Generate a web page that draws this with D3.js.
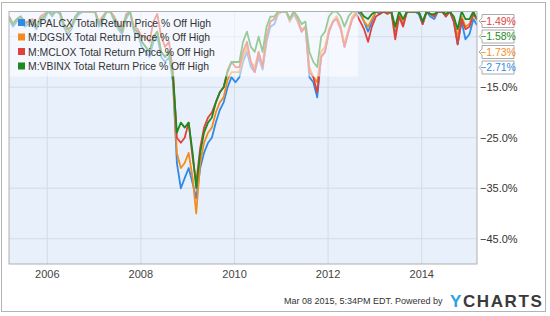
<!DOCTYPE html>
<html>
<head>
<meta charset="utf-8">
<script src="https://cdn.jsdelivr.net/npm/d3@7"></script>
<style>
  body { margin: 0; background: #fff; }
  svg { display: block; font-family: "Liberation Sans", Arial, sans-serif; }
</style>
</head>
<body>
<svg id="chart" width="550" height="316"></svg>
<script>
// monthly samples, Mar 2005 .. Mar 2015 (last point is Mar 08 2015)
const startMonth = new Date(2005, 2, 8);
const endDate = new Date(2015, 2, 8);

const palcx = [
  -1.5, -3, -2, -1.5, -3, -2.5, -2.5, -3.5, -2, -1.5,
  0, -1, 0, -0.5, -3, -4.5, -3.5, -1.5, -0.5, 0, 0, 0,
  0, -3, -2, 0, 0, -2, -3.5, -4.5, -1.5, 0, -4, -4.5,
  -7, -8, -9, -6, -5, -9, -10, -9, -14, -30, -35, -33,
  -31, -34, -37, -31, -28, -26, -25, -22, -19.5, -18, -15, -13,
  -14, -13, -10, -8, -11, -12, -9, -11.5, -6, -3, -2.5, -0.5,
  0, 0, -2, -0.5, -2, -4, -3, -13, -14, -17, -9, -8,
  -4, -2, -1, -3, -7, -4, -1.5, 0, -0.5, -2, -4, -2,
  0, -0.5, 0, 0, 0, -4, -1, -2.5, 0, 0, 0, -0.5,
  -2.5, 0, -1, -1.5, 0, 0, -1, 0, -2, -6.5, -2, -5.5,
  -4.5, -1.5, -2.71
];
const dgsix = [
  -1, -2.5, -1.5, -1, -2.5, -2, -2, -3, -1.5, -1,
  0, -0.5, 0, 0, -2.5, -4, -3, -1, 0, 0, 0, 0,
  0, -2.5, -1.5, 0, 0, -1.5, -3, -4, -1, 0, -3.5, -4,
  -6, -7, -8, -5, -4, -8, -9, -8, -13.5, -28, -31, -30,
  -28, -33, -40, -30, -26, -24, -23, -20, -18, -17, -13.5, -12,
  -12, -12, -9, -7, -10, -11, -8, -11, -5, -2, -1.5, -0.5,
  0, 0, -2, 0, -2, -3.5, -3, -11, -13, -14, -8, -7,
  -3.5, -2, -1, -3, -6.5, -3.5, -1, 0, 0, -2, -3, -1.5,
  0, 0, 0, 0, 0, -3.5, -0.5, -2, 0, 0, 0, 0,
  -2, 0, -0.5, -1, 0, 0, -0.5, 0, -1.5, -5, -1, -3,
  -2.5, -0.5, -1.73
];
const mclox = [
  -1, -2.5, -1.5, -1, -2, -2, -1.5, -3, -1, -0.5,
  0, -0.5, 0, 0, -2.5, -3.5, -3, -1, 0, 0, 0, 0,
  0, -2, -1, 0, 0, -1, -2.5, -3.5, -0.5, 0, -3, -3.5,
  -5, -5, -6, -2, -0.5, -5, -7, -6, -12, -25, -26, -25,
  -22, -29, -34, -27, -23, -21, -20, -18, -16, -15, -11.6, -10,
  -11, -11, -8, -6, -10, -12, -8, -11, -5, -2, -1.5, 0,
  0, 0, -1.5, 0, -1.5, -4, -3, -12, -13, -16, -9, -8,
  -4, -2, -1.5, -3.5, -7, -4, -1.5, -0.5, -2, -3.5, -6, -3,
  -1, -0.5, 0, -0.5, 0, -5.5, -1, -3, 0, 0, 0, 0,
  -2.5, 0, -0.5, -1, 0, 0, -1, 0, -2, -6.5, -1.5, -3.5,
  -3, -0.5, -1.49
];
const vbinx = [
  -1, -2.5, -1.5, -1, -2.5, -2, -2, -3, -1.5, -1,
  0, -0.5, 0, 0, -2.5, -3.5, -3, -1, 0, 0, 0, 0,
  0, -2.5, -1.5, 0, 0, -1.5, -3, -4, -1, 0, -3.5, -4,
  -6, -7, -8, -5, -4, -8, -9, -8, -13, -24, -22, -23,
  -22, -28, -35, -28, -24, -22, -21, -18, -16, -15, -12, -10,
  -10, -10, -6, -4, -7, -8, -5, -8, -3, -1, -1, 0,
  0, 0, -1.5, 0, -1, -2.5, -2, -8, -10, -11, -5, -4,
  -1, 0, 0, -1, -3, -1, 0, 0, 0, -1, -1.5, -0.5,
  0, 0, 0, 0, 0, -3, 0, -1.5, 0, 0, 0, 0,
  -2, 0, -0.5, -0.5, 0, 0, -0.5, 0, -1, -3.5, 0, -1.5,
  -1.5, 0, -1.58
];

const seriesNames = ["M:PALCX", "M:DGSIX", "M:MCLOX", "M:VBINX"];
const seriesColors = ["#2f8be6", "#f58a1f", "#e0413a", "#1d8a1d"];
const seriesValues = [palcx, dgsix, mclox, vbinx];
const yLabelTicks = [-15, -25, -35, -45];
const yGridTicks = [-5, -15, -25, -35, -45];
const xTickYears = [2006, 2008, 2010, 2012, 2014];

const dates = palcx.map((d, i) => i === palcx.length - 1 ? endDate : d3.timeMonth.offset(startMonth, i));

const svg = d3.select("#chart");
const plotL = 9, plotR = 477, plotT = 11.5, plotB = 264;

// outer frame
svg.append("rect").attr("x", 1.5).attr("y", 2.5).attr("width", 544).attr("height", 309)
  .attr("fill", "#fff").attr("stroke", "#b4b4b4");

const x = d3.scaleTime().domain([startMonth, endDate]).range([plotL, plotR]);
const y = d3.scaleLinear().domain([-50, 0]).range([plotB, plotT]);

svg.append("rect").attr("x", plotL).attr("y", plotT).attr("width", plotR - plotL).attr("height", plotB - plotT)
  .attr("fill", "#e8f0fc");

svg.append("defs").append("clipPath").attr("id", "plot")
  .append("rect").attr("x", plotL).attr("y", plotT).attr("width", plotR - plotL).attr("height", plotB - plotT);

// gridlines
svg.append("g").selectAll("line").data(yGridTicks).join("line")
  .attr("x1", plotL).attr("x2", plotR).attr("y1", d => y(d)).attr("y2", d => y(d))
  .attr("stroke", "#d3dbe6");
svg.append("g").selectAll("line").data(xTickYears).join("line")
  .attr("x1", d => x(new Date(d, 0, 1))).attr("x2", d => x(new Date(d, 0, 1)))
  .attr("y1", plotT).attr("y2", plotB).attr("stroke", "#d3dbe6");

const line = d3.line().x((d, i) => x(dates[i])).y(d => y(d));
const lines = svg.append("g").attr("clip-path", "url(#plot)");
seriesValues.forEach((vals, k) => {
  lines.append("path").datum(vals).attr("d", line)
    .attr("fill", "none").attr("stroke", seriesColors[k]).attr("stroke-width", 1.8)
    .attr("stroke-linejoin", "round");
});

// legend veil
svg.append("rect").attr("x", plotL).attr("y", plotT).attr("width", 349).attr("height", 65)
  .attr("fill", "#fff").attr("opacity", 0.55);

svg.append("rect").attr("x", plotL).attr("y", plotT).attr("width", plotR - plotL).attr("height", plotB - plotT)
  .attr("fill", "none").attr("stroke", "#b0b0b0");

const legend = svg.append("g");
seriesNames.forEach((name, k) => {
  const cy = 22.5 + k * 14.5;
  legend.append("rect").attr("x", 18).attr("y", cy - 3.5).attr("width", 7).attr("height", 7)
    .attr("fill", seriesColors[k]);
  legend.append("text").attr("x", 28).attr("y", cy + 4).attr("font-size", 10.4).attr("fill", "#333")
    .text(name + " Total Return Price % Off High");
});

// y labels
svg.append("g").selectAll("text").data(yLabelTicks).join("text")
  .attr("x", 480).attr("y", d => y(d) + 4).attr("font-size", 11).attr("fill", "#333")
  .text(d => d3.format(".1f")(d) + "%");

// x labels
svg.append("g").selectAll("text").data(xTickYears).join("text")
  .attr("x", d => x(new Date(d, 0, 1))).attr("y", 278).attr("text-anchor", "middle")
  .attr("font-size", 11).attr("fill", "#444").text(d => d);

// last-value boxes
const lastVals = seriesValues.map((v, k) => ({ v: v[v.length - 1], k }))
  .sort((a, b) => b.v - a.v);
let prev = -Infinity;
lastVals.forEach(d => {
  const cy = Math.max(y(d.v) + 2, prev + 15.5);
  prev = cy;
  const g = svg.append("g");
  g.append("path")
    .attr("d", `M${plotR + 2},${cy} L${plotR + 5},${cy - 3} L${plotR + 5},${cy - 6.5} L${plotR + 37},${cy - 6.5} L${plotR + 37},${cy + 6.5} L${plotR + 5},${cy + 6.5} L${plotR + 5},${cy + 3} Z`)
    .attr("fill", "#fff").attr("stroke", "#aaa");
  g.append("text").attr("x", plotR + 21).attr("y", cy + 3.8).attr("text-anchor", "middle")
    .attr("font-size", 10.5).attr("fill", seriesColors[d.k]).text(d3.format(".2f")(d.v) + "%");
});

// footer
svg.append("text").attr("x", 284).attr("y", 304).attr("font-size", 9).attr("fill", "#333")
  .text("Mar 08 2015, 5:34PM EDT.  Powered by");
const logo = svg.append("text").attr("x", 450).attr("y", 306.5).attr("font-size", 17)
  .attr("font-weight", "bold").attr("letter-spacing", 1.6);
logo.append("tspan").attr("fill", "#28a3e0").text("Y");
logo.append("tspan").attr("fill", "#3a3a3a").text("CHARTS");
</script>
</body>
</html>
